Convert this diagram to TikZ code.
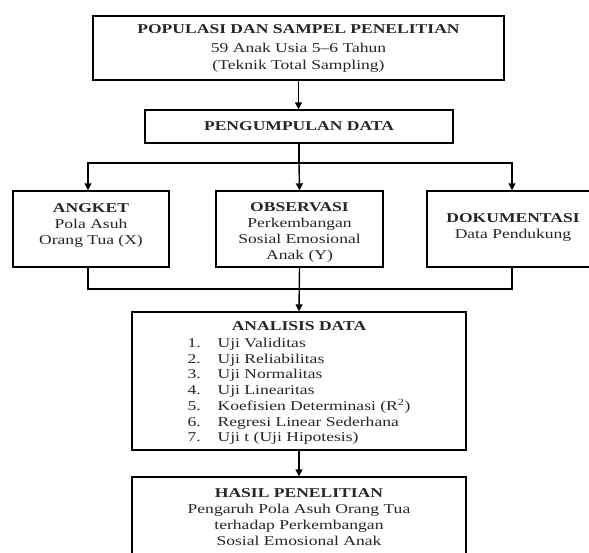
\documentclass[tikz,border=0pt]{standalone}
\usepackage{fontspec}
\setmainfont{Liberation Serif}[FakeStretch=1.3]
\usetikzlibrary{arrows.meta}
\begin{document}
\begin{tikzpicture}[x=1pt,y=-1pt,
  box/.style={draw=black, line width=1.4pt, fill=white, inner sep=0pt},
  txt/.style={align=center, font=\fontsize{13.5}{16}\selectfont, text=black!85, inner sep=0pt},
  arr/.style={-{Triangle[length=7pt,width=7pt]}, line width=1.4pt},
  ln/.style={line width=1.4pt, line cap=rect}]
\useasboundingbox (0,0) rectangle (589,552);
\fill[white] (0,0) rectangle (589,552);
\clip (0,0) rectangle (589,552);

\node[box, minimum width=411pt, minimum height=64pt] (pop) at (298.5,48) {};
\node[txt, font=\fontsize{13.5}{17}\selectfont] (popT) at (298.5,48.5)
  {\textbf{POPULASI DAN SAMPEL PENELITIAN}\\[1.5pt]59 Anak Usia 5--6 Tahun\\(Teknik Total Sampling)};
\node[box, txt, minimum width=308pt, minimum height=33pt] (peng) at (299,126.5)
  {\textbf{PENGUMPULAN DATA}};

\node[box, minimum width=156pt, minimum height=76pt] (ang) at (91,229) {};
\node[txt] (angT) at (91,225.5) {\textbf{ANGKET}\\Pola Asuh\\Orang Tua (X)};
\node[box, minimum width=167pt, minimum height=76pt] (obs) at (299.5,229) {};
\node[txt] (obsT) at (299.5,232)
  {\textbf{OBSERVASI}\\Perkembangan\\Sosial Emosional\\Anak (Y)};
\node[box, minimum width=172pt, minimum height=76pt] (dok) at (513,229) {};
\node[txt] (dokT) at (513,227.5) {\textbf{DOKUMENTASI}\\Data Pendukung};

\node[box, minimum width=334pt, minimum height=138pt] (ana) at (299,381) {};
\node[txt] (anaT) at (299,384)
  {\textbf{ANALISIS DATA}\\[5pt]
   \renewcommand\arraystretch{0.98}%
   \begin{tabular}{@{}p{30pt}@{}l@{}}
   1. & Uji Validitas\\
   2. & Uji Reliabilitas\\
   3. & Uji Normalitas\\
   4. & Uji Linearitas\\
   5. & Koefisien Determinasi (R\textsuperscript{2})\\
   6. & Regresi Linear Sederhana\\
   7. & Uji t (Uji Hipotesis)
   \end{tabular}};

\node[box, txt, minimum width=334pt, minimum height=80pt] (has) at (299,517)
  {\textbf{HASIL PENELITIAN}\\Pengaruh Pola Asuh Orang Tua\\terhadap Perkembangan\\Sosial Emosional Anak};

\draw[arr] (pop.south) -- (pop.south |- peng.north);
\coordinate (j1) at (299,163);
\coordinate (jl) at (88,163);
\coordinate (jr) at (512,163);
\draw[ln] (peng.south) -- (j1);
\draw[ln] (jl) -- (jr);
\draw[arr] (jl) -- (jl |- ang.north);
\draw[arr] (j1) -- (obs.north);
\draw[arr] (jr) -- (jr |- dok.north);

\coordinate (bl) at (88,289);
\coordinate (br) at (512,289);
\draw[ln] (bl |- ang.south) -- (bl) -- (br) -- (br |- dok.south);
\draw[arr] (obs.south) -- (ana.north);
\draw[arr] (ana.south) -- (has.north);
\end{tikzpicture}
\end{document}
